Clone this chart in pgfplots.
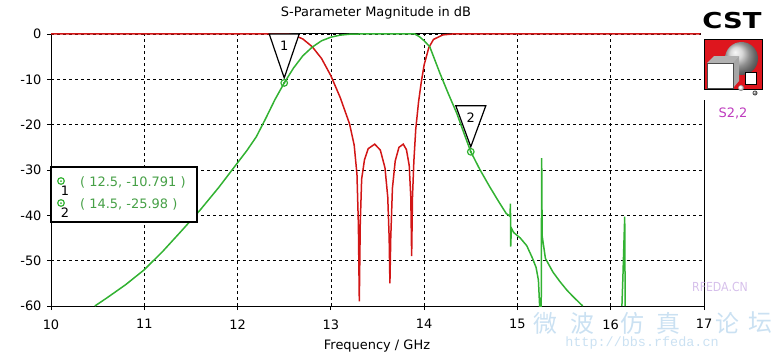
\documentclass[border=0pt]{standalone}
\usepackage{pgfplots}
\pgfplotsset{compat=1.18}
\usepackage{fontspec}
\setmainfont{DejaVu Sans}
\newfontfamily\cjk{Noto Sans CJK SC}
\newfontfamily\monof{Liberation Mono}
\definecolor{cstred}{RGB}{210,22,22}
\definecolor{cstgreen}{RGB}{50,178,50}
\definecolor{legtxt}{RGB}{70,160,70}
\definecolor{wm}{RGB}{185,215,238}
\definecolor{wmp}{RGB}{200,170,228}
\definecolor{spurple}{RGB}{190,60,190}
\definecolor{logored}{RGB}{222,22,30}

\begin{document}
\begin{tikzpicture}[x=1bp,y=1bp,font=\fontsize{13}{15}\selectfont]
\useasboundingbox (0,0) rectangle (775,356);
\begin{axis}[
  at={(51bp,50bp)}, anchor=south west,
  scale only axis, width=653bp, height=272bp,
  xmin=10, xmax=17, ymin=-60, ymax=0,
  xtick={10,...,17}, ytick={-60,-50,...,0},
  grid=major,
  major grid style={black, line width=0.6bp, dash pattern=on 3bp off 3bp},
  axis line style={black, line width=1bp},
  tick style={black, line width=0.8bp},
  tick align=outside, major tick length=4bp, tick pos=left,
  clip=false,
  /pgf/number format/assume math mode=true,
  ticklabel style={font=\fontsize{13}{15}\selectfont},
  xticklabel style={yshift=-6bp},
  yticklabel style={xshift=-2bp},
]
\addplot[cstred, line width=1.5bp] coordinates {
(10,0) (12.55,0) (12.6,-0.2) (12.7,-1.1) (12.8,-2.8) (12.9,-5.4) (13.0,-9.2)
(13.1,-14) (13.2,-19.8) (13.25,-24.5) (13.28,-31) (13.295,-42) (13.305,-59)
(13.315,-42) (13.33,-32) (13.36,-27.8) (13.4,-25.3) (13.47,-24.3) (13.53,-25.6)
(13.58,-29.5) (13.61,-36) (13.625,-45) (13.633,-55) (13.642,-45) (13.66,-34)
(13.69,-28) (13.73,-25) (13.776,-24.3) (13.81,-25.5) (13.84,-29) (13.857,-36)
(13.866,-49) (13.875,-36) (13.89,-28) (13.91,-21) (13.94,-15) (13.97,-10.5)
(14.0,-6.8) (14.05,-3) (14.1,-1.2) (14.2,-0.2) (14.3,0) (16.96,0)
};
\addplot[cstgreen, line width=1.5bp] coordinates {
(10.47,-60) (10.6,-58.2) (10.8,-55.3) (11.0,-52) (11.2,-47.9) (11.4,-43.4)
(11.6,-38.8) (11.8,-33.8) (12.0,-28.4) (12.1,-25.7) (12.2,-22.7) (12.3,-18.7)
(12.4,-14.5) (12.5,-10.791) (12.6,-7.5) (12.7,-4.8) (12.8,-2.9) (12.9,-1.5)
(13.0,-0.7) (13.1,-0.25) (13.2,-0.05) (13.3,0) (13.9,0) (13.95,-0.6) (14.0,-1.5)
(14.06,-2.8) (14.17,-8.7) (14.26,-13.2) (14.35,-17.5) (14.42,-21.5) (14.5,-25.98)
(14.6,-30) (14.7,-33.6) (14.8,-37) (14.88,-39.6) (14.92,-40.2) (14.925,-37.4)
(14.928,-46.9) (14.935,-42.8) (14.96,-43.8) (15.03,-45) (15.1,-46.7) (15.16,-49.4)
(15.2,-51.5) (15.225,-54.3) (15.238,-60) (15.255,-60) (15.26,-27.4) (15.265,-44.5)
(15.3,-49.5) (15.38,-52.5) (15.455,-54.6) (15.53,-56.5) (15.6,-58) (15.7,-60)
};
\addplot[cstgreen, line width=1.5bp] coordinates {
(16.12,-60) (16.13,-54) (16.15,-40.3) (16.155,-60)
};
% marker triangles
\draw[black, line width=1.2bp, fill=white, shift={(axis cs:12.5,-10.791)}]
  (0bp,5bp) -- (-15bp,49bp) -- (15bp,49bp) -- cycle;
\node[font=\fontsize{13}{15}\selectfont] at ([yshift=37bp]axis cs:12.5,-10.791) {1};
\draw[black, line width=1.2bp, fill=white, shift={(axis cs:14.5,-25.98)}]
  (0bp,5bp) -- (-15bp,46bp) -- (15bp,46bp) -- cycle;
\node[font=\fontsize{13}{15}\selectfont] at ([yshift=34bp]axis cs:14.5,-25.98) {2};
\addplot[only marks, mark=o, mark size=3.3bp, mark options={cstgreen, line width=1.2bp, fill=white}]
  coordinates {(12.5,-10.791) (14.5,-25.98)};
\addplot[only marks, mark=*, mark size=1bp, mark options={cstgreen}]
  coordinates {(12.5,-10.791) (14.5,-25.98)};
\end{axis}
% title and label
\node at (376,343) {S-Parameter Magnitude in dB};
\node at (377,10) {Frequency / GHz};
% cover right top edge
\fill[white] (700.6,255) rectangle (775,356);
% legend box
\draw[black, line width=2bp, fill=white] (51,134) rectangle (197,189);
\draw[cstgreen, line width=1.2bp] (61,175) circle (3.3);
\fill[cstgreen] (61,175) circle (1);
\draw[cstgreen, line width=1.2bp] (61,153) circle (3.3);
\fill[cstgreen] (61,153) circle (1);
\node at (65,165) {1};
\node at (65,143) {2};
\node[anchor=west, text=legtxt, inner sep=0] at (80,174) {( 12.5, -10.791 )};
\node[anchor=west, text=legtxt, inner sep=0] at (80,152) {( 14.5, -25.98 )};
% CST logo
\node[font=\bfseries\fontsize{22}{24}\selectfont, xscale=1.25] at (732,335) {CST};
\fill[logored] (704,267) rectangle (762,317);
\draw[black, line width=1bp] (704,267) rectangle (762,317);
\shade[ball color=gray!40] (741.5,297.5) circle (16.5);
\fill[gray!60] (707,293) -- (714,300) -- (739,300) -- (733,293) -- cycle;
\fill[gray!70] (733,293) -- (739,300) -- (739,275) -- (733,268) -- cycle;
\fill[white] (707,268) rectangle (733,293);
\draw[black!70, line width=0.5bp] (707,268) rectangle (733,293);
\fill[white] (745,272) rectangle (756,284);
\draw[black, line width=0.6bp] (745,272) rectangle (756,284);
\shade[ball color=white] (741,268) circle (3);
\shade[ball color=gray] (755,263) circle (2.5);
\draw[black, line width=1bp] (704,50) -- (704,256);
\node[text=spurple] at (733,243) {S2,2};
% watermark
\begin{scope}[opacity=0.75]
\foreach \c/\xx in {微/545,波/582,仿/632,真/668,论/727,坛/760}
  \node[text=wm, font=\cjk\fontsize{24}{26}\selectfont, inner sep=0pt] at (\xx,33) {\c};
\node[text=wm, font=\monof\fontsize{13.5}{15}\selectfont] at (642,13) {http://bbs.rfeda.cn};
\node[text=wmp, font=\fontsize{12.5}{14}\selectfont, xscale=0.88] at (720,69) {RFEDA.CN};
\end{scope}
\end{tikzpicture}
\end{document}
